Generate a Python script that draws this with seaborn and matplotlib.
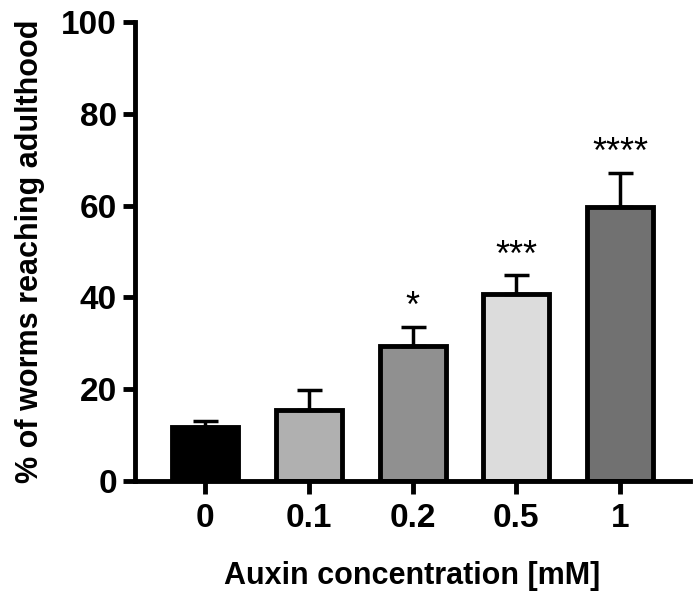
import matplotlib
matplotlib.use("Agg")
import matplotlib.pyplot as plt
import numpy as np
import pandas as pd
import seaborn as sns

# values
concentrations = ["0", "0.1", "0.2", "0.5", "1"]
pct_adult = [11.7, 15.5, 29.5, 40.8, 59.8]
sem = [1.3, 4.4, 4.0, 4.0, 7.3]
stars = ["", "", "*", "***", "****"]
fills = ["#000000", "#b0b0b0", "#909090", "#dcdcdc", "#717171"]

sns.set_theme(style="ticks")
plt.rcParams["font.family"] = ["Liberation Sans", "DejaVu Sans"]
plt.rcParams["font.weight"] = "bold"
plt.rcParams["text.color"] = "black"
plt.rcParams["axes.labelcolor"] = "black"
plt.rcParams["xtick.color"] = "black"
plt.rcParams["ytick.color"] = "black"

df = pd.DataFrame({"conc": concentrations, "pct": pct_adult})

fig = plt.figure(figsize=(6.93, 5.95), dpi=100)
ax = fig.add_axes([0.195, 0.1916, 0.8007, 0.7714])

sns.barplot(data=df, x="conc", y="pct", hue="conc", palette=fills, legend=False,
            width=0.635, edgecolor="black", linewidth=3.5, errorbar=None, ax=ax)

pos = np.arange(len(concentrations))
ax.errorbar(pos, pct_adult, yerr=[np.zeros(len(sem)), sem], fmt="none",
            ecolor="black", elinewidth=2.5, capsize=9, capthick=2.5, zorder=1)

for x, m, e, s in zip(pos, pct_adult, sem, stars):
    if s:
        ax.text(x, m + e + 0.4, s, ha="center", va="bottom", fontsize=26,
                fontweight="normal", color="black")

ax.set_xlim(-0.675, len(concentrations) - 1 + 0.675)
ax.set_ylim(0, 100)
ax.set_yticks([0, 20, 40, 60, 80, 100])
ax.set_xlabel("Auxin concentration [mM]", fontsize=22, fontweight="bold", labelpad=19)
ax.set_ylabel("% of worms reaching adulthood", fontsize=22, fontweight="bold", labelpad=12)
ax.tick_params(axis="both", labelsize=24, width=3.5, length=9, color="black")
ax.tick_params(axis="x", pad=7)
ax.tick_params(axis="y", pad=4)
for lab in ax.get_xticklabels() + ax.get_yticklabels():
    lab.set_fontweight("bold")

for sp in ["left", "bottom"]:
    ax.spines[sp].set_linewidth(3.5)
    ax.spines[sp].set_color("black")
sns.despine(ax=ax)

fig.savefig("out.png", dpi=100)
